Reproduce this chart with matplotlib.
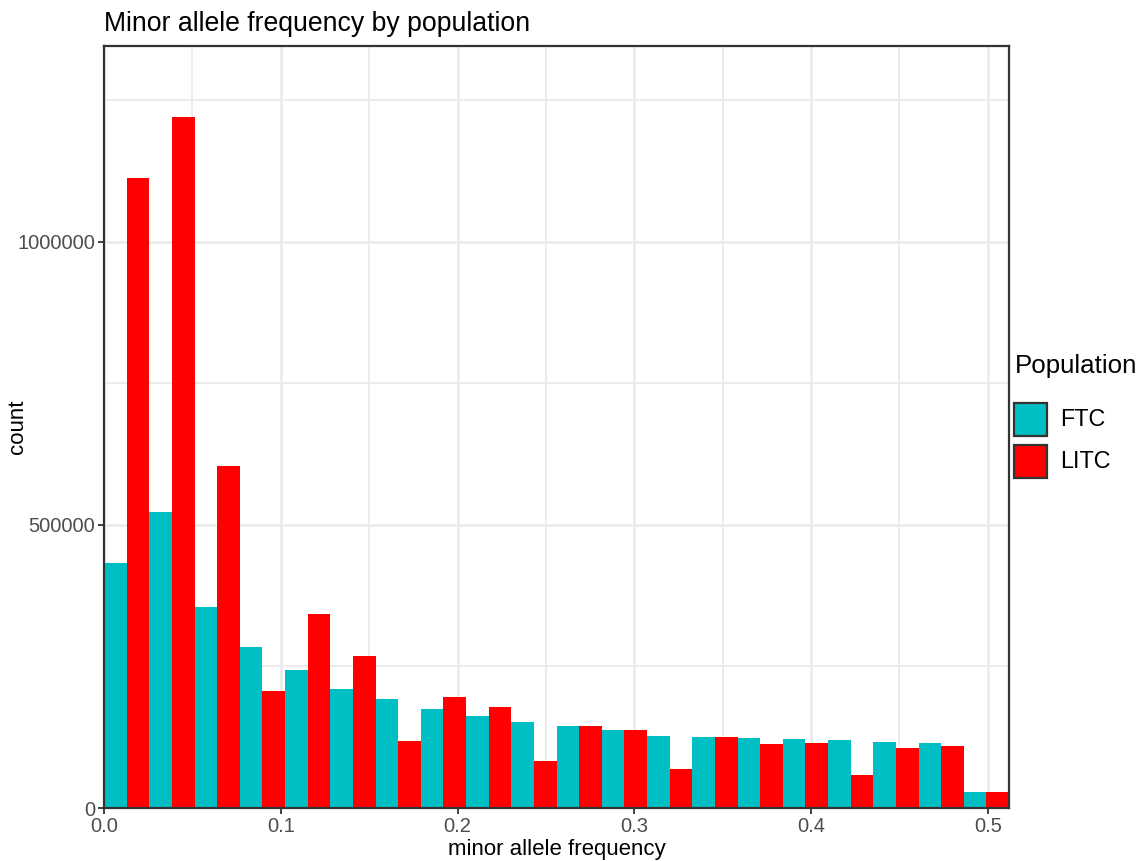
import numpy as np
import matplotlib
matplotlib.use("Agg")
import matplotlib.pyplot as plt
from matplotlib.patches import Rectangle
from matplotlib.ticker import MultipleLocator, FixedLocator

plt.rcParams['font.family'] = ['Liberation Sans', 'DejaVu Sans']

# Histogram counts per minor-allele-frequency bin (20 bins, dodged by population)
bin_width = 0.0256
n_bins = 20
ftc_counts = [433000, 523000, 355000, 285000, 244000, 210000, 193000, 175000,
              163000, 152000, 145000, 138000, 127000, 125000, 124000, 122000,
              120000, 117000, 115000, 28000]
litc_counts = [1113000, 1221000, 604000, 207000, 343000, 269000, 119000, 196000,
               178000, 83000, 145000, 138000, 69000, 125000, 113000, 115000,
               58000, 106000, 110000, 28000]
populations = ["FTC", "LITC"]
colors = ["#00BFC4", "#FF0000"]

y_ticks = [0, 500000, 1000000]
y_tick_labels = ["0", "500000", "1000000"]
x_ticks = [0.0, 0.1, 0.2, 0.3, 0.4, 0.5]
x_tick_labels = ["0.0", "0.1", "0.2", "0.3", "0.4", "0.5"]

W, H = 1144, 861
fig = plt.figure(figsize=(W / 100, H / 100), dpi=100)
fig.patch.set_facecolor("white")

left, right, top, bottom = 104, 1009, 46, 808
ax = fig.add_axes([left / W, (H - bottom) / H, (right - left) / W, (bottom - top) / H])

edges = np.arange(n_bins) * bin_width
half = bin_width / 2
for k, (counts, col) in enumerate(zip([ftc_counts, litc_counts], colors)):
    ax.bar(edges + k * half, counts, width=half, align="edge", color=col,
           edgecolor="none", linewidth=0, zorder=3)

ax.set_xlim(0, n_bins * bin_width)
ax.set_ylim(0, 1.346e6)

ax.xaxis.set_major_locator(FixedLocator(x_ticks))
ax.set_xticklabels(x_tick_labels)
ax.xaxis.set_minor_locator(MultipleLocator(0.05))
ax.yaxis.set_major_locator(FixedLocator(y_ticks))
ax.set_yticklabels(y_tick_labels)
ax.yaxis.set_minor_locator(MultipleLocator(250000))

ax.grid(which="major", color="#EBEBEB", linewidth=1.9, zorder=0)
ax.grid(which="minor", color="#EBEBEB", linewidth=1.3, zorder=0)
ax.set_axisbelow(True)

ax.tick_params(which="major", length=4, width=1.3, color="#333333",
               labelsize=14.5, labelcolor="#4D4D4D", pad=2.5)
ax.tick_params(which="minor", length=0)

for sp in ax.spines.values():
    sp.set_color("#333333")
    sp.set_linewidth(1.6)
    sp.set_zorder(5)

ax.set_xlabel("minor allele frequency", fontsize=16, labelpad=2)
fig.text(18 / W, 1 - ((top + bottom) / 2) / H, "count", fontsize=16,
         rotation=90, ha="center", va="center")

fig.text(left / W, 1 - 31 / H, "Minor allele frequency by population",
         fontsize=19.2, ha="left", va="baseline")

# Legend
fig.text(1015 / W, 1 - 373 / H, "Population", fontsize=18.6, ha="left", va="baseline")
key_w, key_h = 33, 33
key_tops = [403, 445]
for name, col, kt in zip(populations, colors, key_tops):
    fig.patches.append(Rectangle((1014 / W, 1 - (kt + key_h) / H), key_w / W, key_h / H,
                                 transform=fig.transFigure, facecolor=col,
                                 edgecolor="#333333", linewidth=1.6))
    fig.text(1060 / W, 1 - (kt + key_h / 2) / H, name, fontsize=16.8,
             ha="left", va="center")

fig.savefig("out.png", dpi=100)
